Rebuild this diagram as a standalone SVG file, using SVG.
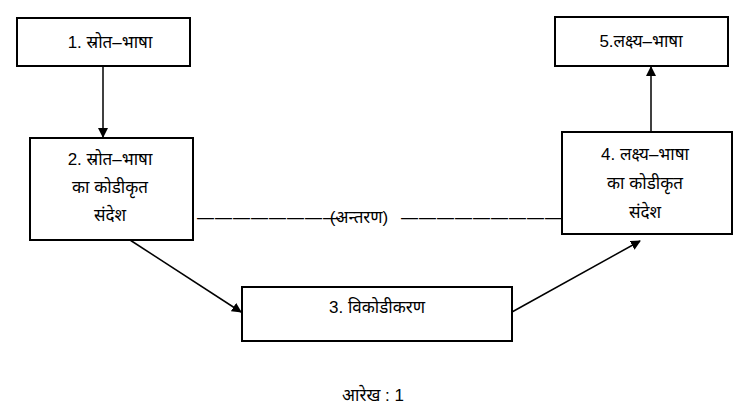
<svg xmlns="http://www.w3.org/2000/svg" width="748" height="411" viewBox="0 0 748 411">
<style>
rect{fill:#fff;stroke:#000;stroke-width:2}
text{font-family:"Liberation Sans","Noto Sans Devanagari","Noto Sans",sans-serif;font-size:17px;fill:#000;text-anchor:middle}
.c{stroke:#000;stroke-width:1.5;fill:none}
.d{letter-spacing:1px;text-anchor:start}
</style>
<defs><marker id="a" markerWidth="10" markerHeight="10" refX="9" refY="5" orient="auto" markerUnits="userSpaceOnUse"><path d="M0,0L10,5L0,10z" fill="#000"/></marker></defs>
<rect width="748" height="411" style="stroke:none"/>
<g id="connectors">
<line class="c" x1="103" y1="66" x2="103" y2="137" marker-end="url(#a)"/>
<line class="c" x1="651" y1="131" x2="651" y2="67" marker-end="url(#a)"/>
<line class="c" x1="130" y1="240" x2="241" y2="312" marker-end="url(#a)"/>
<line class="c" x1="512" y1="312" x2="640" y2="241" marker-end="url(#a)"/>
<text class="d" x="197" y="223">————————</text>
<text x="359" y="223">(अन्तरण)</text>
<text class="d" x="401" y="223">——————————</text>
</g>
<g id="n1"><rect x="17" y="18" width="173" height="48"/><text x="110" y="48">1.  स्रोत–भाषा</text></g>
<g id="n2"><rect x="30" y="138" width="163" height="102"/><text x="110" y="165">2. स्रोत–भाषा</text><text x="110" y="193">का  कोडीकृत</text><text x="110" y="221">संदेश</text></g>
<g id="n3"><rect x="242" y="287" width="270" height="54"/><text x="377" y="313">3.  विकोडीकरण</text></g>
<g id="n4"><rect x="562" y="132" width="170" height="102"/><text x="645" y="160">4. लक्ष्य–भाषा</text><text x="645" y="189">का  कोडीकृत</text><text x="645" y="218">संदेश</text></g>
<g id="n5"><rect x="555" y="17" width="173" height="49"/><text x="641" y="47">5.लक्ष्य–भाषा</text></g>
<text x="373" y="401">आरेख  :  1</text>
</svg>
